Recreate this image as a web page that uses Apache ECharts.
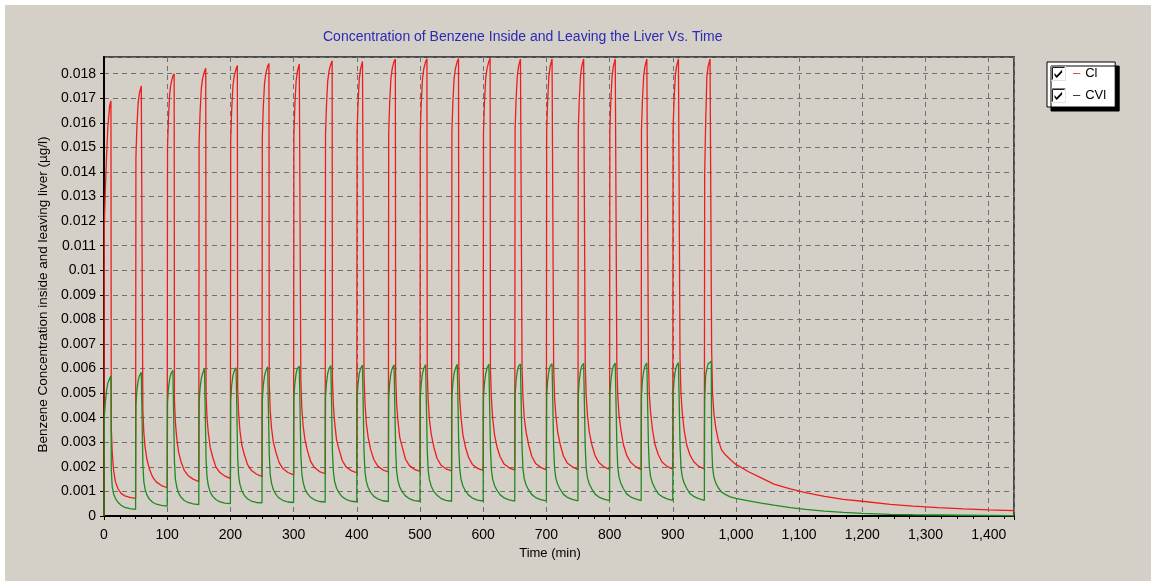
<!DOCTYPE html>
<html>
<head>
<meta charset="utf-8">
<script src="https://cdn.jsdelivr.net/npm/echarts@6/dist/echarts.min.js"></script>
<style>
  html, body { margin: 0; padding: 0; background: #fff; }
  #chart { position: absolute; left: 5px; top: 5px; width: 1146px; height: 576px; }
</style>
</head>
<body>
<div id="chart"></div>
<script>
// dosing cycles, one every 50 min
const cycleStarts = [0, 50, 100, 150, 200, 250, 300, 350, 400, 450, 500, 550, 600, 650, 700, 750, 800, 850, 900, 950]
// sample times inside a cycle (min after cycle start)
const cycleOffsets = [0, 0.5, 2, 4, 6, 9, 11, 11.5, 13, 15, 18, 22, 27, 33, 41]

// Cl - concentration inside the liver, one row per cycle
const clCycles = [
  [0, 0.0118, 0.0132, 0.0146, 0.0158, 0.0167, 0.0169, 0.0036, 0.0026, 0.0019, 0.0014, 0.00112, 0.00092, 0.00082, 0.00076],
  [0.00072, 0.0146, 0.0158, 0.0168, 0.0172, 0.0175, 0.01758, 0.0043, 0.0034, 0.0028, 0.0023, 0.0019, 0.00158, 0.00138, 0.00124],
  [0.00115, 0.0150, 0.0162, 0.0172, 0.0176, 0.0179, 0.0180, 0.0047, 0.0038, 0.0032, 0.0026, 0.0022, 0.00186, 0.00165, 0.0015],
  [0.0014, 0.0152, 0.0164, 0.0174, 0.0178, 0.0181, 0.01822, 0.0050, 0.0040, 0.0034, 0.0028, 0.0024, 0.0020, 0.00178, 0.00163],
  [0.00152, 0.0153, 0.0165, 0.0175, 0.0179, 0.0182, 0.01833, 0.0052, 0.0042, 0.0035, 0.0029, 0.0025, 0.0021, 0.00186, 0.00171],
  [0.0016, 0.0154, 0.0166, 0.0176, 0.0180, 0.0183, 0.01842, 0.0054, 0.0043, 0.0036, 0.0030, 0.0026, 0.00218, 0.00193, 0.00177],
  [0.00167, 0.0155, 0.0167, 0.0177, 0.0181, 0.0184, 0.01848, 0.0055, 0.0044, 0.0037, 0.0031, 0.00265, 0.00222, 0.00197, 0.00181],
  [0.00172, 0.0155, 0.0167, 0.0177, 0.0181, 0.0184, 0.01853, 0.0056, 0.0045, 0.0038, 0.0031, 0.0027, 0.00226, 0.0020, 0.00185],
  [0.00176, 0.0156, 0.0168, 0.0178, 0.0182, 0.0185, 0.01857, 0.0057, 0.0046, 0.0038, 0.0032, 0.0027, 0.0023, 0.00204, 0.00188],
  [0.00179, 0.0156, 0.0168, 0.0178, 0.0182, 0.0185, 0.0186, 0.0058, 0.0046, 0.0039, 0.0032, 0.0028, 0.00232, 0.00206, 0.0019],
  [0.00182, 0.0156, 0.0168, 0.0178, 0.0182, 0.0185, 0.01861, 0.0059, 0.0047, 0.0039, 0.0033, 0.0028, 0.00235, 0.00208, 0.00192],
  [0.00184, 0.0156, 0.0168, 0.0178, 0.0182, 0.0185, 0.01862, 0.0060, 0.0047, 0.0040, 0.0033, 0.0028, 0.00238, 0.0021, 0.00194],
  [0.00186, 0.0156, 0.0168, 0.0178, 0.0182, 0.0185, 0.01863, 0.0060, 0.0048, 0.0040, 0.0033, 0.0028, 0.0024, 0.00212, 0.00196],
  [0.00187, 0.0157, 0.0169, 0.0179, 0.0183, 0.0186, 0.01864, 0.0061, 0.0048, 0.0040, 0.0034, 0.0029, 0.00242, 0.00214, 0.00198],
  [0.00188, 0.0157, 0.0169, 0.0179, 0.0183, 0.0186, 0.01865, 0.0061, 0.0048, 0.0041, 0.0034, 0.0029, 0.00244, 0.00216, 0.0020],
  [0.00189, 0.0157, 0.0169, 0.0179, 0.0183, 0.0186, 0.01866, 0.0062, 0.0049, 0.0041, 0.0034, 0.0029, 0.00246, 0.00218, 0.0020],
  [0.0019, 0.0157, 0.0169, 0.0179, 0.0183, 0.0186, 0.01866, 0.0062, 0.0049, 0.0041, 0.0035, 0.0029, 0.00248, 0.0022, 0.00201],
  [0.0019, 0.0157, 0.0169, 0.0179, 0.0183, 0.0186, 0.01867, 0.0063, 0.0049, 0.0042, 0.0035, 0.0029, 0.0025, 0.0022, 0.00202],
  [0.00191, 0.0157, 0.0169, 0.0179, 0.0183, 0.0186, 0.01867, 0.0064, 0.0050, 0.0042, 0.0035, 0.0029, 0.0025, 0.00222, 0.00202],
  [0.00192, 0.0139, 0.0159, 0.0179, 0.0183, 0.0186, 0.01868, 0.0068, 0.0050, 0.0042, 0.0036, 0.0031, 0.0027, 0.0025, 0.0023]
]

// CVl - concentration leaving the liver, one row per cycle
const cvlCycles = [
  [0, 0.0040, 0.0046, 0.0051, 0.0054, 0.0056, 0.0057, 0.0019, 0.0012, 0.00092, 0.00072, 0.00056, 0.00044, 0.00035, 0.0003],
  [0.00027, 0.0045, 0.0051, 0.0055, 0.0057, 0.00585, 0.0059, 0.0021, 0.0014, 0.0011, 0.00085, 0.00068, 0.00056, 0.00048, 0.00043],
  [0.0004, 0.0046, 0.0052, 0.0056, 0.0058, 0.00593, 0.00598, 0.0022, 0.0015, 0.0012, 0.00093, 0.00076, 0.00063, 0.00055, 0.00049],
  [0.00046, 0.0046, 0.0052, 0.0056, 0.0058, 0.0060, 0.00604, 0.0023, 0.0016, 0.00125, 0.00098, 0.0008, 0.00067, 0.00058, 0.00052],
  [0.0005, 0.0047, 0.0053, 0.0057, 0.0059, 0.00603, 0.00608, 0.0024, 0.00165, 0.0013, 0.00103, 0.00084, 0.0007, 0.00061, 0.00055],
  [0.00053, 0.0047, 0.0053, 0.0057, 0.0059, 0.00607, 0.00612, 0.0025, 0.0017, 0.00134, 0.00107, 0.00088, 0.00073, 0.00064, 0.00057],
  [0.00055, 0.0048, 0.0054, 0.0058, 0.0060, 0.0061, 0.00615, 0.0025, 0.00175, 0.00138, 0.0011, 0.00091, 0.00076, 0.00066, 0.00059],
  [0.00057, 0.0048, 0.0054, 0.0058, 0.0060, 0.00612, 0.00617, 0.0026, 0.0018, 0.0014, 0.00113, 0.00094, 0.00078, 0.00068, 0.0006],
  [0.00058, 0.0048, 0.0054, 0.0058, 0.0060, 0.00614, 0.00619, 0.0026, 0.0018, 0.00142, 0.00116, 0.00096, 0.0008, 0.0007, 0.00062],
  [0.00059, 0.0048, 0.0054, 0.0058, 0.0060, 0.00615, 0.0062, 0.0027, 0.00185, 0.00145, 0.00118, 0.00098, 0.00082, 0.00071, 0.00063],
  [0.0006, 0.0048, 0.0054, 0.0058, 0.0060, 0.00616, 0.00621, 0.0027, 0.00185, 0.00147, 0.0012, 0.0010, 0.00084, 0.00072, 0.00064],
  [0.0006, 0.0048, 0.0054, 0.0058, 0.0060, 0.00617, 0.00622, 0.0027, 0.0019, 0.00149, 0.00122, 0.00102, 0.00085, 0.00073, 0.00065],
  [0.00061, 0.0048, 0.0054, 0.0058, 0.0060, 0.00618, 0.00623, 0.0028, 0.0019, 0.0015, 0.00124, 0.00104, 0.00086, 0.00074, 0.00066],
  [0.00061, 0.0049, 0.0055, 0.0059, 0.0061, 0.00619, 0.00624, 0.0028, 0.0019, 0.00152, 0.00126, 0.00106, 0.00087, 0.00075, 0.00067],
  [0.00062, 0.0049, 0.0055, 0.0059, 0.0061, 0.0062, 0.00625, 0.0028, 0.00195, 0.00154, 0.00128, 0.00108, 0.00088, 0.00076, 0.00068],
  [0.00062, 0.0049, 0.0055, 0.0059, 0.0061, 0.00621, 0.00626, 0.0028, 0.00195, 0.00156, 0.0013, 0.0011, 0.00089, 0.00077, 0.00069],
  [0.00063, 0.0049, 0.0055, 0.0059, 0.0061, 0.00622, 0.00627, 0.0029, 0.0020, 0.00158, 0.00132, 0.00111, 0.0009, 0.00078, 0.0007],
  [0.00063, 0.0049, 0.0055, 0.0059, 0.0061, 0.00623, 0.00628, 0.0029, 0.0020, 0.0016, 0.00133, 0.00112, 0.00091, 0.00079, 0.0007],
  [0.00064, 0.0049, 0.0055, 0.0059, 0.0061, 0.00624, 0.00629, 0.0029, 0.0020, 0.0016, 0.00134, 0.00113, 0.00092, 0.0008, 0.00071],
  [0.00064, 0.0047, 0.0057, 0.0060, 0.0062, 0.00628, 0.0063, 0.0030, 0.0020, 0.0016, 0.00135, 0.00115, 0.00098, 0.00088, 0.00078]
]

// wash-out after the last dose
const tailTimes = [1000, 1020, 1040, 1060, 1086, 1110, 1140, 1170, 1200, 1244, 1280, 1320, 1360, 1400, 1440]
const clTail = [0.0021, 0.0018, 0.00155, 0.0013, 0.0011, 0.00095, 0.0008, 0.00068, 0.0006, 0.00047, 0.0004, 0.00034, 0.00029, 0.00025, 0.00022]
const cvlTail = [0.00072, 0.00062, 0.00052, 0.00044, 0.00034, 0.00027, 0.0002, 0.00015, 0.00011, 0.00007, 0.00005, 0.00004, 0.00003, 0.00002, 0.00001]

const seriesNames = ['Cl', 'CVl']

// build [time, value] pairs
const clData = []
const cvlData = []
cycleStarts.forEach((t0, i) => {
  cycleOffsets.forEach((o, j) => {
    clData.push([t0 + o, clCycles[i][j]])
    cvlData.push([t0 + o, cvlCycles[i][j]])
  })
})
tailTimes.forEach((t, j) => {
  clData.push([t, clTail[j]])
  cvlData.push([t, cvlTail[j]])
})

// checkbox icon for the legend
const checkSvg = '<svg xmlns="http://www.w3.org/2000/svg" width="15" height="15">' +
  '<rect x="0" y="0" width="15" height="15" fill="#ffffff"/>' +
  '<path d="M0.5 14.5V0.5H14.5" stroke="#808080" fill="none"/>' +
  '<path d="M1.5 13.5V1.5H13.5" stroke="#202020" fill="none"/>' +
  '<path d="M14.5 0.5V14.5H0.5" stroke="#e0e0e0" fill="none"/>' +
  '<path d="M3.5 7l2.2 2.4 5.4-5.6v2.6l-5.4 5.6-2.2-2.4z" fill="#000000"/>' +
  '</svg>'
const checkIcon = 'image://data:image/svg+xml;charset=utf-8,' + encodeURIComponent(checkSvg)

const chart = echarts.init(document.getElementById('chart'))

const option = {
  animation: false,
  backgroundColor: '#d4d0c8',
  textStyle: { fontFamily: 'Liberation Sans, Arial, sans-serif' },
  title: {
    text: 'Concentration of Benzene Inside and Leaving the Liver Vs. Time',
    left: 318,
    top: 25,
    padding: 0,
    textStyle: { color: '#2a2ab4', fontSize: 14, fontWeight: 'normal' }
  },
  legend: {
    data: seriesNames,
    orient: 'vertical',
    left: 1042,
    top: 57,
    padding: [4, 9, 4, 4],
    itemGap: 7,
    itemWidth: 15,
    itemHeight: 15,
    icon: checkIcon,
    selectedMode: false,
    backgroundColor: '#ffffff',
    borderColor: '#000000',
    borderWidth: 1,
    shadowColor: '#000000',
    shadowBlur: 0,
    shadowOffsetX: 4,
    shadowOffsetY: 4,
    formatter: name => name === 'Cl' ? '{r|–}Cl' : '{k|–}CVl',
    textStyle: {
      color: '#000',
      fontSize: 13,
      rich: {
        r: { color: '#e03030', fontSize: 13, padding: [0, 5, 0, 2] },
        k: { color: '#202020', fontSize: 13, padding: [0, 5, 0, 2] }
      }
    }
  },
  grid: {
    left: 99,
    right: 137,
    top: 52,
    bottom: 65,
    show: true,
    borderColor: '#4a4a4a',
    borderWidth: 2,
    backgroundColor: 'transparent'
  },
  xAxis: {
    type: 'value',
    min: 0,
    max: 1440,
    interval: 100,
    name: 'Time (min)',
    nameLocation: 'middle',
    nameGap: 29,
    nameTextStyle: { color: '#000', fontSize: 13, padding: [0, 18, 0, 0] },
    axisLine: { lineStyle: { color: '#000', width: 2 } },
    axisTick: { show: true, length: 4, lineStyle: { color: '#000' } },
    minorTick: { show: true, splitNumber: 4, length: 3, lineStyle: { color: '#000' } },
    splitLine: { show: true, lineStyle: { color: '#707070', type: [5, 4] } },
    axisLabel: {
      color: '#000',
      fontSize: 14,
      margin: 12,
      showMaxLabel: false,
      formatter: v => String(v).replace(/\B(?=(\d{3})+(?!\d))/g, ',')
    }
  },
  yAxis: {
    type: 'value',
    min: 0,
    max: 0.01868,
    interval: 0.001,
    name: 'Benzene Concentration inside and leaving liver (µg/l)',
    nameLocation: 'middle',
    nameGap: 50,
    nameTextStyle: { color: '#000', fontSize: 13.5, padding: [0, 16, 0, 0] },
    axisLine: { show: true, lineStyle: { color: '#000', width: 2 } },
    axisTick: { show: true, length: 4, lineStyle: { color: '#000' } },
    splitLine: { show: true, lineStyle: { color: '#707070', type: [5, 4] } },
    axisLabel: {
      color: '#000',
      fontSize: 14,
      margin: 8,
      showMaxLabel: false,
      formatter: v => String(+v.toFixed(3))
    }
  },
  series: [
    {
      name: 'Cl',
      type: 'line',
      data: clData,
      showSymbol: false,
      color: '#ee1c1c',
      lineStyle: { color: '#ee1c1c', width: 1.3 }
    },
    {
      name: 'CVl',
      type: 'line',
      data: cvlData,
      showSymbol: false,
      color: '#1f8a1f',
      lineStyle: { color: '#1f8a1f', width: 1.3 }
    }
  ]
}

chart.setOption(option)
</script>
</body>
</html>
